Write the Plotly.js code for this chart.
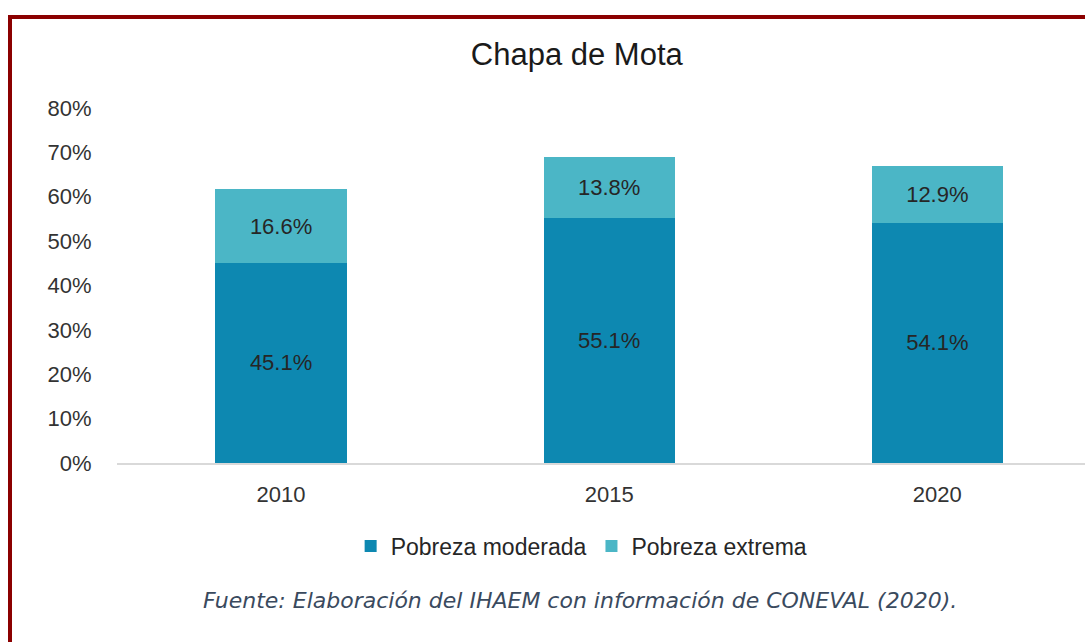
<!DOCTYPE html>
<html>
<head>
<meta charset="utf-8">
<script src="https://cdn.plot.ly/plotly-3.0.1.min.js"></script>
<style>
html,body{margin:0;padding:0;background:#fff;}
#wrap{position:relative;width:1085px;height:642px;overflow:hidden;}
#chart{position:absolute;left:0;top:0;width:1085px;height:642px;}
#frame{position:absolute;left:8px;top:15px;right:-10px;bottom:-10px;border-left:4px solid #8B0000;border-top:4px solid #8B0000;pointer-events:none;}
</style>
</head>
<body>
<div id="wrap"><div id="chart"></div><div id="frame"></div></div>
<script>
const years = ['2010', '2015', '2020'];
const moderada = [45.1, 55.1, 54.1];
const extrema = [16.6, 13.8, 12.9];
const yTicks = [0, 10, 20, 30, 40, 50, 60, 70, 80];
const yTickLabels = ['0%', '10%', '20%', '30%', '40%', '50%', '60%', '70%', '80%'];

const sans = 'Liberation Sans, Arial, sans-serif';
const labelFont = {family: sans, size: 22, color: '#262626'};

const traces = [
  {type: 'bar', name: 'Pobreza moderada', x: years, y: moderada,
   marker: {color: '#0D88B1'}, width: 0.4,
   texttemplate: '%{y:.1f}%', textposition: 'inside', insidetextanchor: 'middle',
   textfont: labelFont, hoverinfo: 'skip'},
  {type: 'bar', name: 'Pobreza extrema', x: years, y: extrema,
   marker: {color: '#4BB6C6'}, width: 0.4,
   texttemplate: '%{y:.1f}%', textposition: 'inside', insidetextanchor: 'middle',
   textfont: labelFont, hoverinfo: 'skip'}
];

const layout = {
  width: 1085, height: 642,
  paper_bgcolor: '#ffffff', plot_bgcolor: '#ffffff',
  margin: {l: 117, r: 0, t: 108, b: 179},
  barmode: 'stack',
  showlegend: true,
  title: {text: 'Chapa de Mota', xref: 'paper', x: 0.475, xanchor: 'center',
          yref: 'container', y: 0.916, yanchor: 'middle',
          font: {family: sans, size: 31, color: '#1a1a1a'}},
  xaxis: {type: 'category', range: [-0.5, 2.45], showgrid: false, zeroline: false,
          showline: true, linecolor: '#d9d9d9', linewidth: 2,
          ticks: 'outside', ticklen: 11, tickcolor: 'rgba(0,0,0,0)',
          tickfont: {family: sans, size: 22, color: '#333333'}},
  yaxis: {range: [0, 80], tickvals: yTicks, ticktext: yTickLabels, showgrid: false,
          zeroline: false, showline: false,
          ticks: 'outside', ticklen: 20, tickcolor: 'rgba(0,0,0,0)',
          tickfont: {family: sans, size: 22, color: '#333333'}},
  legend: {orientation: 'h', x: 0.48, xanchor: 'center', y: -0.234, yanchor: 'middle',
           traceorder: 'normal', itemwidth: 30, itemgap: 22,
           font: {family: sans, size: 23, color: '#262626'}},
  annotations: [
    {text: '<i>Fuente: Elaboración del IHAEM con información de CONEVAL (2020).</i>',
     xref: 'paper', yref: 'paper', x: 0.478, y: -0.386, xanchor: 'center', yanchor: 'middle',
     showarrow: false,
     font: {family: 'DejaVu Sans, sans-serif', size: 22, color: '#3A4A5E'}}
  ]
};

Plotly.newPlot('chart', traces, layout, {displayModeBar: false, staticPlot: true});
</script>
</body>
</html>
